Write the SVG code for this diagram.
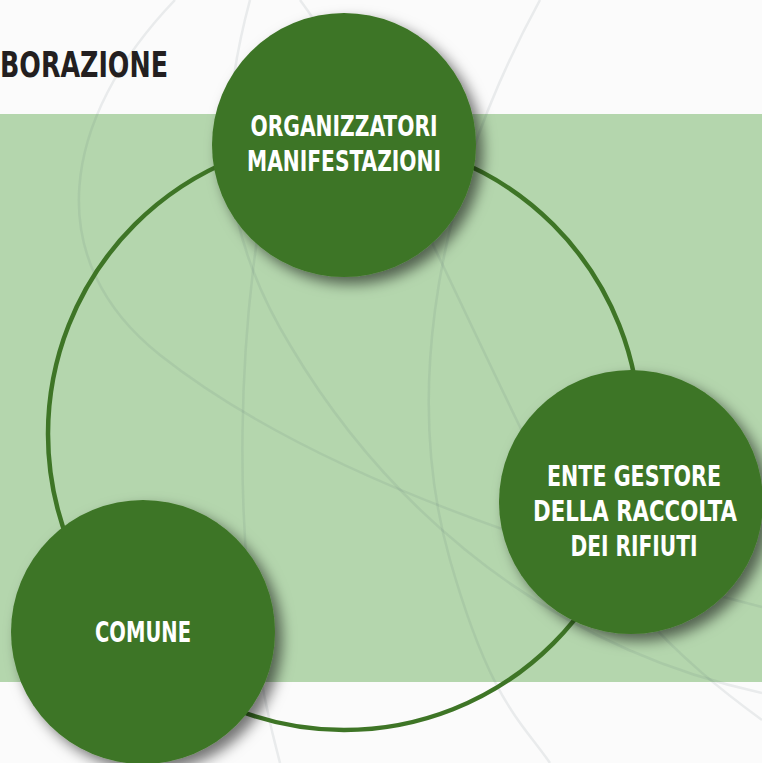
<svg xmlns="http://www.w3.org/2000/svg" width="762" height="763" viewBox="0 0 762 763">
  <defs>
    <filter id="shadow" x="-20%" y="-20%" width="150%" height="150%">
      <feDropShadow dx="7" dy="7" stdDeviation="7" flood-color="#000" flood-opacity="0.55"/>
    </filter>
  </defs>
  <style>
    .deco { fill: none; stroke: #506070; stroke-opacity: 0.1; stroke-width: 2.5; }
    .ring { fill: none; stroke: #3e7526; stroke-width: 4.5; }
    .node circle { fill: #3e7526; filter: url(#shadow); }
    .label { font-family: "Liberation Sans Narrow", "DejaVu Sans Condensed", "Liberation Sans", sans-serif; font-weight: 700; font-size: 29px; fill: #ffffff; text-anchor: middle; }
    .title { font-family: "Liberation Sans Narrow", "DejaVu Sans Condensed", "Liberation Sans", sans-serif; font-weight: 700; font-size: 35px; fill: #231f20; }
  </style>

  <!-- background -->
  <rect x="0" y="0" width="762" height="763" fill="#fbfbfb"/>
  <rect x="0" y="114" width="762" height="568" fill="#b4d6ad"/>

  <!-- decorative curves -->
  <g id="decoration">
    <path class="deco" d="M 175 0 C 60 120, 40 260, 160 355 C 280 450, 480 535, 762 607"/>
    <path class="deco" d="M 250 0 C 215 130, 220 230, 290 345 C 370 480, 520 640, 762 693"/>
    <path class="deco" d="M 540 0 C 420 220, 410 420, 450 560 S 520 720, 550 763"/>
    <path class="deco" d="M 300 0 C 360 80, 420 220, 520 427 C 600 590, 680 660, 762 720"/>
    <path class="deco" d="M 280 120 C 235 300, 225 560, 280 763"/>
  </g>

  <text class="title" x="0" y="77" textLength="168" lengthAdjust="spacingAndGlyphs">BORAZIONE</text>

  <!-- connectors -->
  <g id="connectors">
    <circle class="ring" cx="344" cy="434" r="296"/>
  </g>

  <!-- nodes -->
  <g id="node-organizzatori" class="node">
    <circle cx="344" cy="145" r="132"/>
    <text class="label" transform="translate(344,136) scale(0.8,1)" textLength="233.75" lengthAdjust="spacingAndGlyphs">ORGANIZZATORI</text>
    <text class="label" transform="translate(344,171) scale(0.8,1)" textLength="242.5" lengthAdjust="spacingAndGlyphs">MANIFESTAZIONI</text>
  </g>

  <g id="node-ente-gestore" class="node">
    <circle cx="631" cy="502" r="132"/>
    <text class="label" transform="translate(634,486) scale(0.8,1)" textLength="217.5" lengthAdjust="spacingAndGlyphs">ENTE GESTORE</text>
    <text class="label" transform="translate(635,521) scale(0.8,1)" textLength="255" lengthAdjust="spacingAndGlyphs">DELLA RACCOLTA</text>
    <text class="label" transform="translate(634,556) scale(0.8,1)" textLength="158.75" lengthAdjust="spacingAndGlyphs">DEI RIFIUTI</text>
  </g>

  <g id="node-comune" class="node">
    <circle cx="143" cy="632" r="132"/>
    <text class="label" transform="translate(143,642) scale(0.8,1)" textLength="120" lengthAdjust="spacingAndGlyphs">COMUNE</text>
  </g>
</svg>
